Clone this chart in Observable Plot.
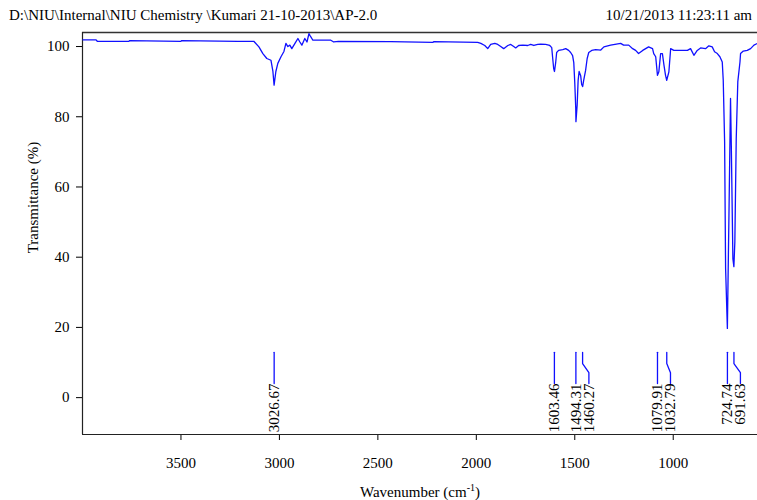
<!DOCTYPE html>
<html>
<head>
<meta charset="utf-8">
<script src="https://cdn.jsdelivr.net/npm/d3@7"></script>
<script src="https://cdn.jsdelivr.net/npm/@observablehq/plot@0.6"></script>
<style>
  html, body { margin: 0; padding: 0; background: #fff; }
  body { width: 757px; height: 500px; overflow: hidden; font-family: "Liberation Serif", "Times New Roman", serif; }
  #header { height: 26px; display: flex; justify-content: space-between; align-items: flex-end;
            font-size: 15px; color: #000; padding: 0 5px 0 9px; box-sizing: border-box; line-height: 1; }
  #header span { position: relative; top: -3px; }
  svg { display: block; }
</style>
</head>
<body>
<div id="header"><span id="path"></span><span id="stamp"></span></div>
<div id="chart"></div>
<script>
// ---- texts ----
const headerLeft = "D:\\NIU\\Internal\\NIU Chemistry \\Kumari 21-10-2013\\AP-2.0";
const headerRight = "10/21/2013 11:23:11 am";
const xTitle = "Wavenumber (cm-1)";
const yTitle = "Transmittance (%)";

// ---- axes ----
const xDomain = [4000, 572];
const yDomain = [-10.5, 104];
const xTicks = [3500, 3000, 2500, 2000, 1500, 1000];
const yTicks = [0, 20, 40, 60, 80, 100];

// ---- spectrum (wavenumber cm-1, transmittance %) ----
const wavenumber = [
  3998, 3931, 3925, 3764, 3760, 3500, 3496, 3211, 3145, 3130,
  3104, 3084, 3064, 3043, 3033, 3027, 3018, 3008, 2992, 2977,
  2967, 2957, 2947, 2937, 2921, 2906, 2896, 2886, 2871, 2860,
  2850, 2845, 2830, 2739, 2724, 2700, 2434, 2221, 2215, 1993,
  1977, 1957, 1942, 1927, 1906, 1891, 1876, 1861, 1840, 1825,
  1810, 1800, 1785, 1764, 1739, 1724, 1708, 1688, 1673, 1648,
  1627, 1617, 1612, 1607, 1603, 1597, 1592, 1582, 1561, 1546,
  1531, 1521, 1511, 1505, 1500, 1495, 1494, 1488, 1483, 1478,
  1470, 1465, 1460, 1455, 1445, 1437, 1429, 1414, 1394, 1368,
  1352, 1318, 1267, 1252, 1226, 1206, 1191, 1176, 1155, 1125,
  1105, 1099, 1089, 1080, 1073, 1064, 1055, 1047, 1039, 1033,
  1022, 1013, 997, 962, 928, 912, 895, 878, 861, 836,
  819, 802, 790, 776, 763, 751, 746, 739, 734, 725,
  717, 709, 705, 697, 692, 687, 680, 672, 661, 658,
  644, 624, 607, 590, 572
];
const transmittance = [
  101.9, 101.9, 101.5, 101.5, 101.7, 101.5, 101.7, 101.5, 101.5, 101.5,
  99.9, 98.0, 96.6, 96.1, 92.9, 89.0, 92.9, 95.2, 97.1, 98.6,
  100.9, 100.0, 100.4, 99.4, 100.9, 102.3, 101.3, 100.4, 102.3, 101.3,
  103.7, 103.2, 101.8, 101.8, 101.3, 101.5, 101.4, 101.2, 101.4, 101.2,
  100.9, 100.3, 99.4, 100.6, 100.9, 100.6, 100.0, 99.4, 100.3, 100.6,
  100.0, 99.6, 100.3, 100.4, 100.3, 100.6, 100.3, 100.6, 100.7, 100.6,
  100.3, 99.7, 96.6, 93.7, 92.9, 95.4, 98.3, 98.9, 99.1, 99.4,
  98.9, 98.3, 97.4, 95.4, 89.7, 82.3, 78.6, 83.2, 90.3, 92.9,
  91.7, 89.2, 88.6, 90.3, 93.2, 96.6, 98.3, 98.9, 99.1, 99.0,
  99.9, 100.4, 100.9, 100.4, 100.4, 99.4, 98.9, 98.0, 98.9, 99.9,
  99.4, 98.0, 97.1, 91.8, 92.8, 98.0, 98.0, 94.7, 91.8, 90.4,
  92.8, 99.4, 98.9, 98.9, 98.9, 99.4, 97.5, 98.9, 99.6, 99.4,
  100.2, 99.9, 98.5, 98.0, 97.1, 95.6, 90.4, 72.9, 36.8, 19.7,
  51.9, 85.2, 71.9, 39.6, 37.3, 44.4, 73.8, 90.0, 95.6, 98.0,
  98.7, 98.9, 99.4, 100.4, 100.9
];

// ---- peak picks ----
const peakWavenumbers = [3026.67, 1603.46, 1494.31, 1460.27, 1079.91, 1032.79, 724.74, 691.63];
const peakLabels = ["3026.67", "1603.46", "1494.31", "1460.27", "1079.91", "1032.79", "724.74", "691.63"];

// ---- layout ----
const W = 757, H = 474;
const margin = {top: 6, right: 0, bottom: 66, left: 82};
const leaderLevels = {top: 12.9, knee1: 9.7, knee2: 7.1, bottom: 4.0};
const labelGap = 13;
const yTitleAt = 57;
const blue = "#1010ff";
const font = "Liberation Serif, Times New Roman, serif";

document.getElementById("path").textContent = headerLeft;
document.getElementById("stamp").textContent = headerRight;

const spectrum = wavenumber.map((w, i) => ({w, t: transmittance[i]}));

// displace crowded labels
const xs = Plot.scale({x: {domain: xDomain, range: [margin.left, W - margin.right]}});
const peaks = peakWavenumbers.map((w, i) => ({w, label: peakLabels[i], px: xs.apply(w)}))
  .sort((a, b) => a.px - b.px);
for (let i = 1; i < peaks.length; i++) {
  if (peaks[i].px < peaks[i - 1].px + labelGap) peaks[i].px = peaks[i - 1].px + labelGap;
}
peaks.forEach(p => p.dw = xs.invert(p.px));
const leaders = peaks.flatMap(p => [
  {label: p.label, w: p.w, t: leaderLevels.top},
  {label: p.label, w: p.w, t: leaderLevels.knee1},
  {label: p.label, w: p.dw, t: leaderLevels.knee2},
  {label: p.label, w: p.dw, t: leaderLevels.bottom}
]);

const fmt = d => String(d);

const chart = Plot.plot({
  width: W, height: H,
  marginTop: margin.top, marginRight: margin.right, marginBottom: margin.bottom, marginLeft: margin.left,
  style: {fontFamily: font, fontSize: "15px", color: "#000", background: "#fff", overflow: "visible"},
  x: {domain: xDomain, ticks: xTicks},
  y: {domain: yDomain, ticks: yTicks},
  marks: [
    Plot.axisX({ticks: xTicks, tickFormat: fmt, tickSize: 6, tickPadding: 17, label: null, fontSize: 15, fontFamily: font}),
    Plot.axisY({ticks: yTicks, tickFormat: fmt, tickSize: 6, tickPadding: 7, label: null, fontSize: 15, fontFamily: font}),
    Plot.ruleY([yDomain[1]], {stroke: "#333", strokeWidth: 1.5}),
    Plot.ruleY([yDomain[0]], {stroke: "#222", strokeWidth: 1.2}),
    Plot.ruleX([xDomain[0]], {stroke: "#222", strokeWidth: 1.2}),
    Plot.line(spectrum, {x: "w", y: "t", stroke: blue, strokeWidth: 1.3, curve: "linear"}),
    Plot.line(leaders, {x: "w", y: "t", z: "label", stroke: blue, strokeWidth: 1.3}),
    Plot.text(peaks, {x: "dw", y: () => leaderLevels.bottom, text: "label", rotate: -90,
      textAnchor: "end", lineAnchor: "middle", fontSize: 15, fill: "#000", fontFamily: font}),
    Plot.text([xTitle], {frameAnchor: "bottom", dy: 58, lineAnchor: "middle", fontSize: 15, fill: "#000", fontFamily: font}),
    Plot.text([yTitle], {frameAnchor: "left", y: () => yTitleAt, dx: -49, rotate: -90, lineAnchor: "middle",
      textAnchor: "middle", fontSize: 15, fill: "#000", fontFamily: font})
  ]
});
document.getElementById("chart").appendChild(chart);

// superscript for cm-1
chart.querySelectorAll("text").forEach(t => {
  if (t.textContent === xTitle) {
    const target = t.querySelector("tspan") || t;
    target.textContent = "";
    const ns = "http://www.w3.org/2000/svg";
    const a = document.createElementNS(ns, "tspan"); a.textContent = "Wavenumber (cm";
    const b = document.createElementNS(ns, "tspan"); b.textContent = "-1";
    b.setAttribute("font-size", "10"); b.setAttribute("dy", "-6");
    const c = document.createElementNS(ns, "tspan"); c.textContent = ")"; c.setAttribute("dy", "6");
    target.append(a, b, c);
  }
});
</script>
</body>
</html>
